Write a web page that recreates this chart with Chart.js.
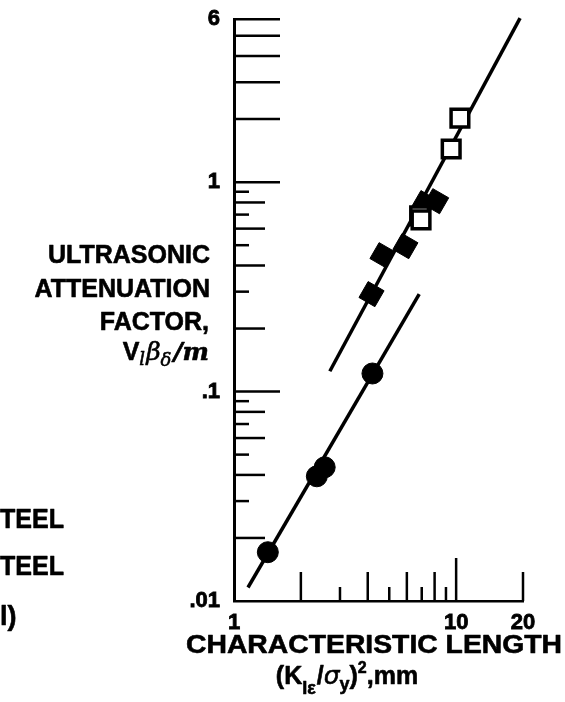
<!DOCTYPE html>
<html><head><meta charset="utf-8">
<script src="https://cdn.jsdelivr.net/npm/chart.js@4/dist/chart.umd.min.js"></script>
<style>html,body{margin:0;padding:0;background:#fff}canvas{display:block}</style>
</head><body>
<canvas id="c" width="565" height="702"></canvas>
<script>
// ---- data ----
const circleX  = [1.42, 2.36, 2.56, 4.20];
const circleY  = [0.0171, 0.0394, 0.0435, 0.122];
const diamondX = [4.16, 4.66, 5.91, 7.19, 8.13];
const diamondY = [0.292, 0.448, 0.495, 0.794, 0.811];
const squareX  = [6.85, 6.95, 9.50, 10.4];
const squareY  = [0.690, 0.660, 1.44, 2.02];
const upperLineX = [2.70, 19.4];
const upperLineY = [0.125, 6.07];
const lowerLineX = [1.156, 6.82];
const lowerLineY = [0.0116, 0.292];
const xTickValues = [1, 10, 20];
const xTickLabels = ['1', '10', '20'];
const yTickValues = [0.01, 0.1, 1, 6];
const yTickLabels = ['.01', '.1', '1', '6'];
const xMinorTicks = [2, 3, 4, 5, 6, 7, 8, 9, 10, 20];
const yMinorTicks = [0.02,0.03,0.04,0.05,0.06,0.07,0.08,0.09,0.1,
                     0.2,0.3,0.4,0.5,0.6,0.7,0.8,0.9,1,2,3,4,5,6];

const pts = (xs, ys) => xs.map((x, i) => ({x: x, y: ys[i]}));
const BOLD = '"Liberation Sans", Arial, Helvetica, sans-serif';

function drawRich(ctx, segs, x, y, align) {
  let total = 0;
  segs.forEach(s => { ctx.font = s.font; total += ctx.measureText(s.t).width + (s.gap || 0); });
  let cx = align === 'right' ? x - total : align === 'center' ? x - total / 2 : x;
  ctx.textBaseline = 'alphabetic'; ctx.textAlign = 'left';
  segs.forEach(s => {
    ctx.font = s.font;
    ctx.fillText(s.t, cx, y + (s.dy || 0));
    ctx.strokeText(s.t, cx, y + (s.dy || 0));
    cx += ctx.measureText(s.t).width + (s.gap || 0);
  });
}
function drawStretched(ctx, text, cx, baseY, font, width, align) {
  ctx.save();
  ctx.font = font;
  const w = ctx.measureText(text).width;
  const sx = width ? width / w : 1;
  const realW = w * sx;
  let left = align === 'right' ? cx - realW : align === 'left' ? cx : cx - realW / 2;
  ctx.translate(left, baseY);
  ctx.scale(sx, 1);
  ctx.textAlign = 'left'; ctx.textBaseline = 'alphabetic';
  ctx.fillText(text, 0, 0);
  ctx.strokeText(text, 0, 0);
  ctx.restore();
}

const decorPlugin = {
  id: 'decor',
  afterDatasetsDraw(chart) {
    const ctx = chart.ctx;
    const xs = chart.scales.x, ys = chart.scales.y;
    const x0 = xs.getPixelForValue(1), y0 = ys.getPixelForValue(0.01);
    ctx.save();
    ctx.strokeStyle = '#000';
    ctx.lineWidth = 2.5;
    ctx.lineCap = 'butt';
    // inward minor ticks on the y axis
    yMinorTicks.forEach(v => {
      const m = Math.round(v / Math.pow(10, Math.floor(Math.log10(v) + 1e-9)));
      let len = (v >= 1 || m === 1) ? 46 : (m % 2 === 0 ? 31 : 15);
      const py = ys.getPixelForValue(v);
      ctx.beginPath(); ctx.moveTo(x0, py); ctx.lineTo(x0 + len, py); ctx.stroke();
    });
    // inward ticks on the x axis
    xMinorTicks.forEach(v => {
      let len = v === 10 ? 43 : (v === 20 || v % 2 === 0 ? 29 : 14);
      const px = xs.getPixelForValue(v);
      ctx.beginPath(); ctx.moveTo(px, y0); ctx.lineTo(px, y0 - len); ctx.stroke();
    });
    ctx.restore();

    // texts
    ctx.save();
    ctx.fillStyle = '#000';
    ctx.strokeStyle = '#000';
    ctx.lineWidth = 0.6;
    ctx.lineJoin = 'round';
    const f = (s, it) => (it ? 'italic ' : '') + 'bold ' + s + 'px ' + BOLD;
    drawStretched(ctx, 'ULTRASONIC', 210, 263, f(25), null, 'right');
    drawStretched(ctx, 'ATTENUATION', 210, 297, f(25), null, 'right');
    drawStretched(ctx, 'FACTOR,', 209, 330, f(25), null, 'right');
    drawRich(ctx, [
      {t: 'V', font: f(25)},
      {t: 'l', font: 'italic 18px "DejaVu Serif", serif', dy: 5, gap: 1},
      {t: 'β', font: 'italic 25px "DejaVu Serif", serif'},
      {t: 'δ', font: 'italic 18px "DejaVu Serif", serif', dy: 6, gap: 2},
      {t: '/m', font: 'italic bold 25px "DejaVu Serif", serif'}
    ], 209, 360, 'right');

    drawStretched(ctx, 'CHARACTERISTIC LENGTH', 374, 653, f(26), 376, 'center');
    drawRich(ctx, [
      {t: '(K', font: f(25)},
      {t: 'Iε', font: f(18), dy: 10, gap: 1},
      {t: '/', font: f(25)},
      {t: 'σ', font: 'italic 25px "DejaVu Sans", sans-serif'},
      {t: 'y', font: f(18), dy: 6},
      {t: ')', font: f(25)},
      {t: '2', font: f(16), dy: -11},
      {t: ',mm', font: f(25)}
    ], 347, 684, 'center');

    // cut-off legend fragments at the left edge
    drawStretched(ctx, 'TEEL', 0, 528, f(27), 64, 'left');
    drawStretched(ctx, 'TEEL', 0, 575, f(27), 64, 'left');
    drawStretched(ctx, 'l)', 0, 625, f(27), null, 'left');
    ctx.restore();
  }
};

const lineStyle = {showLine: true, borderColor: '#000', borderWidth: 3.5, pointRadius: 0, clip: false, order: 2};

new Chart(document.getElementById('c'), {
  type: 'scatter',
  data: {
    datasets: [
      Object.assign({data: pts(upperLineX, upperLineY)}, lineStyle),
      Object.assign({data: pts(lowerLineX, lowerLineY)}, lineStyle),
      {data: pts(circleX, circleY), pointStyle: 'circle', pointRadius: 10.5,
       backgroundColor: '#000', borderColor: '#000', borderWidth: 1, clip: false, order: 1},
      {data: pts(diamondX, diamondY), pointStyle: 'rect', rotation: 30, pointRadius: 13,
       backgroundColor: '#000', borderColor: '#000', borderWidth: 1, clip: false, order: 1},
      {data: pts(squareX, squareY), pointStyle: 'rect', pointRadius: 12.5,
       backgroundColor: '#fff', borderColor: '#000', borderWidth: 3.5, clip: false, order: 0}
    ]
  },
  options: {
    responsive: false,
    animation: false,
    devicePixelRatio: 1,
    layout: {padding: {top: 18, right: 42, left: 0, bottom: 0}},
    plugins: {legend: {display: false}, tooltip: {enabled: false}},
    scales: {
      x: {
        type: 'logarithmic', min: 1, max: 20,
        afterBuildTicks: s => { s.ticks = xTickValues.map(v => ({value: v})); },
        afterFit: s => { s.height = 101; },
        grid: {display: false},
        border: {display: true, color: '#000', width: 2.5},
        ticks: {
          padding: 1, color: '#000', maxRotation: 0, autoSkip: false,
          textStrokeColor: '#000', textStrokeWidth: 0.8,
          font: {family: 'Liberation Sans', size: 22, weight: 'bold'},
          callback: (v) => xTickLabels[xTickValues.indexOf(v)] ?? ''
        }
      },
      y: {
        type: 'logarithmic', min: 0.01, max: 6,
        afterBuildTicks: s => { s.ticks = yTickValues.map(v => ({value: v})); },
        afterFit: s => { s.width = 234; },
        grid: {display: false},
        border: {display: true, color: '#000', width: 3},
        ticks: {
          padding: 6, color: '#000', autoSkip: false,
          textStrokeColor: '#000', textStrokeWidth: 0.8,
          font: {family: 'Liberation Sans', size: 22, weight: 'bold'},
          callback: (v) => yTickLabels[yTickValues.indexOf(v)] ?? ''
        }
      }
    }
  },
  plugins: [decorPlugin]
});
</script>
</body></html>
